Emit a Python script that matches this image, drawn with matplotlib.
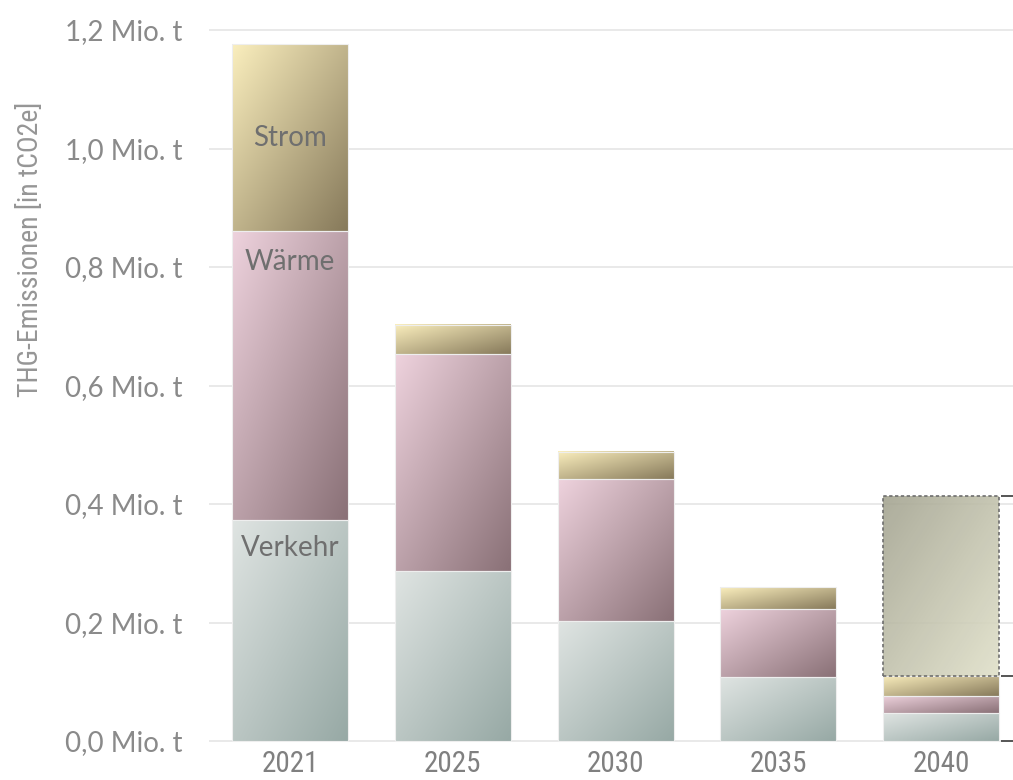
import numpy as np
import matplotlib
matplotlib.use("Agg")
import matplotlib.pyplot as plt
import matplotlib.font_manager as fm
from matplotlib.patches import Rectangle
from matplotlib.colors import to_rgb

# ---------------- data ----------------
years = ["2021", "2025", "2030", "2035", "2040"]
verkehr = [0.373, 0.287, 0.2025, 0.108, 0.047]
waerme = [0.488, 0.366, 0.2395, 0.115, 0.029]
strom = [0.315, 0.049, 0.046, 0.037, 0.034]
gap_2040 = 0.303          # dashed remaining-gap box on top of 2040
yticks = [0.0, 0.2, 0.4, 0.6, 0.8, 1.0, 1.2]
ytick_labels = ["0,0 Mio. t", "0,2 Mio. t", "0,4 Mio. t", "0,6 Mio. t",
                "0,8 Mio. t", "1,0 Mio. t", "1,2 Mio. t"]
series_names = ["Verkehr", "Wärme", "Strom"]
ylabel = "THG-Emissionen [in tCO2e]"

# ---------------- styles ----------------
grad = {
    "Verkehr": ("#dfe4e2", "#97a9a5"),
    "Wärme": ("#eed2dd", "#8a7177"),
    "Strom": ("#faeebd", "#877a5b"),
}
gap_grad = ("#a4a491", "#e0e0c9")

names = {f.name for f in fm.fontManager.ttflist}
narrow_family, narrow_stretch = None, "normal"
for cand in ["Liberation Sans Narrow", "Roboto Condensed", "Open Sans Condensed"]:
    if cand in names:
        narrow_family = cand
        break
if narrow_family is None:
    cond = [f for f in fm.fontManager.ttflist
            if ("Condensed" in f.name or "Narrow" in f.name
                or str(f.stretch) in ("condensed", "semi-condensed", "500", "600")
                or "Condensed" in f.fname)]
    if cond:
        narrow_family = cond[0].name
        narrow_stretch = "condensed"
if narrow_family is None:
    narrow_family = "Roboto"
    narrow_size_scale = 0.85
else:
    narrow_size_scale = 1.0

plt.rcParams["font.family"] = ["Lato", "DejaVu Sans"]

W, H = 1013, 780
fig = plt.figure(figsize=(W / 100, H / 100), dpi=100)
fig.patch.set_facecolor("white")

px_per_unit = 592.5
band = 162.75
ax_left_px = 290 - band / 2
ymin, ymax = -0.005, 1.22
ax_h_px = (ymax - ymin) * px_per_unit
ax_bottom_px = H - 741 - (0 - ymin) * px_per_unit
ax_w_px = W - ax_left_px
ax = fig.add_axes([ax_left_px / W, ax_bottom_px / H, ax_w_px / W, ax_h_px / H])
ax.set_xlim(-0.5, -0.5 + ax_w_px / band)
ax.set_ylim(ymin, ymax)
for s in ax.spines.values():
    s.set_visible(False)
ax.set_facecolor("none")

ax.set_yticks(yticks)
ax.set_yticklabels(ytick_labels, fontsize=20, color="#8a8a8a")
ax.tick_params(axis="y", length=0, pad=19)
ax.yaxis.grid(True, color="#e3e3e3", linewidth=1.1)
ax.set_axisbelow(True)

x = np.arange(len(years))
ax.set_xticks(x)
ax.set_xticklabels(years, fontsize=21 * narrow_size_scale, color="#808080",
                   family=[narrow_family, "DejaVu Sans"], fontstretch=narrow_stretch)
ax.tick_params(axis="x", length=0, pad=4)

bar_w = 116 / band


def gradient_rect(x0, x1, y0, y1, c_light, c_dark, zorder=2, alpha=1.0):
    n = 64
    u = np.linspace(0, 1, n)[None, :]
    v = np.linspace(0, 1, n)[:, None]   # 0 bottom, 1 top
    t = (u + (1 - v)) / 2
    cl = np.array(to_rgb(c_light))
    cd = np.array(to_rgb(c_dark))
    img = cl[None, None, :] * (1 - t[..., None]) + cd[None, None, :] * t[..., None]
    ax.imshow(img, extent=[x0, x1, y0, y1], origin="lower", aspect="auto",
              interpolation="bilinear", zorder=zorder, alpha=alpha)


series = [verkehr, waerme, strom]
bottoms = np.zeros(len(years))
for name, vals in zip(series_names, series):
    for i, v in enumerate(vals):
        x0, x1 = i - bar_w / 2, i + bar_w / 2
        y0, y1 = bottoms[i], bottoms[i] + v
        gradient_rect(x0, x1, y0, y1, *grad[name])
        ax.add_patch(Rectangle((x0, y0), bar_w, v, fill=False,
                               edgecolor="#eeeeee", linewidth=0.8, zorder=3))
    bottoms = bottoms + np.array(vals)

# dashed gap box on 2040
i = len(years) - 1
gx0 = i - bar_w / 2
gy0 = bottoms[i]
gradient_rect(gx0, gx0 + bar_w, gy0, gy0 + gap_2040, *gap_grad, zorder=2, alpha=0.9)
ax.add_patch(Rectangle((gx0, gy0), bar_w, gap_2040, fill=False,
                       edgecolor="#6e6e6e", linewidth=1.2,
                       linestyle=(0, (2, 1.5)), zorder=4))
ax.set_aspect("auto")
ax.set_xlim(-0.5, -0.5 + ax_w_px / band)
ax.set_ylim(ymin, ymax)

# bracket marks at right
bx0 = i + bar_w / 2 + 2 / band
bx1 = bx0 + 14 / band
for yv in [gy0 + gap_2040, gy0, 0.0]:
    ax.plot([bx0, bx1], [yv, yv], color="#555555", linewidth=1.4,
            solid_capstyle="butt", zorder=5, clip_on=False)

# segment labels on 2021 bar
lab_col = "#6f6f6f"
ax.text(0, verkehr[0] + waerme[0] + strom[0] / 2, "Strom", ha="center", va="center",
        fontsize=20, color=lab_col, zorder=6)
ax.annotate("Wärme", xy=(0, verkehr[0] + waerme[0]), xytext=(0, -22.5),
            textcoords="offset points", ha="center", va="center",
            fontsize=20, color=lab_col, zorder=6)
ax.annotate("Verkehr", xy=(0, verkehr[0]), xytext=(0, -20.5),
            textcoords="offset points", ha="center", va="center",
            fontsize=20, color=lab_col, zorder=6)

fig.text(31 / W, 1 - 249 / H, ylabel, rotation=90, ha="center", va="center",
         fontsize=20 * narrow_size_scale, color="#969696",
         family=[narrow_family, "DejaVu Sans"], fontstretch=narrow_stretch)

fig.savefig("out.png", dpi=100, facecolor="white")
